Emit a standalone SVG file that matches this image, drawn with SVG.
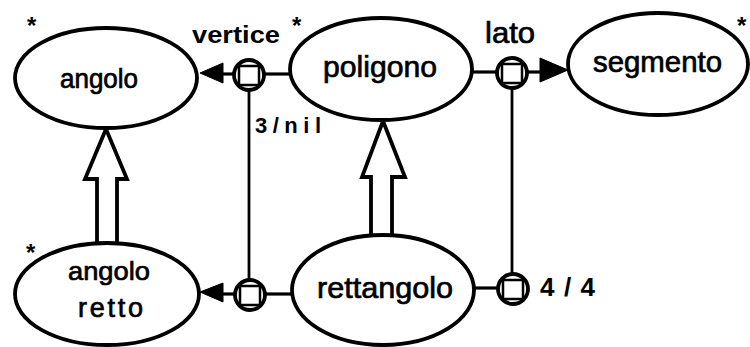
<svg xmlns="http://www.w3.org/2000/svg" width="750" height="347" viewBox="0 0 750 347">
<defs>
<style>
.node ellipse{fill:#fff;stroke:#000;stroke-width:3.8}
.lbl{font-family:"Liberation Sans",Arial,sans-serif;font-size:29px;fill:#000;stroke:#000;stroke-width:0.7}
.rel{font-family:"Liberation Sans",Arial,sans-serif;font-size:23px;font-weight:bold;fill:#000}
.star{font-family:"Liberation Sans",Arial,sans-serif;font-size:24px;font-weight:bold;fill:#000}
.ln{stroke:#000;stroke-width:3.2;fill:none}
.vl{stroke:#000;stroke-width:2.8;fill:none}
.hub circle{fill:#fff;stroke:#000;stroke-width:3.8}
.hub rect{fill:#fff;stroke:#000;stroke-width:2.5}
.ah{fill:#000;stroke:#000;stroke-width:1}
.isa{fill:#fff;stroke:#000;stroke-width:3.8;stroke-linejoin:miter}
</style>
</defs>
<rect width="750" height="347" fill="#fff"/>

<g id="connectors">
  <line class="vl" x1="249" y1="90" x2="249" y2="280"/>
  <line class="vl" x1="512" y1="89" x2="512" y2="273"/>
  <line class="ln" x1="290" y1="74" x2="264" y2="74"/>
  <line class="ln" x1="234" y1="74" x2="218" y2="74"/>
  <polygon class="ah" points="200,73 223,63 223,83"/>
  <line class="ln" x1="473" y1="72" x2="497" y2="72"/>
  <line class="ln" x1="527" y1="72" x2="545" y2="72"/>
  <polygon class="ah" points="568,70 540,58 540,82"/>
  <line class="ln" x1="292" y1="294" x2="265" y2="294"/>
  <line class="ln" x1="235" y1="294" x2="218" y2="294"/>
  <polygon class="ah" points="200,292 223,283 223,302"/>
  <line class="ln" x1="475" y1="288" x2="498" y2="288"/>
  <g class="hub" id="hub-vertice"><circle cx="249" cy="75" r="15"/><rect x="239" y="66" width="20" height="19"/></g>
  <g class="hub" id="hub-lato"><circle cx="512" cy="73" r="15"/><rect x="502" y="64" width="20" height="19"/></g>
  <g class="hub" id="hub-retto"><circle cx="250" cy="295" r="15"/><rect x="240" y="286" width="20" height="19"/></g>
  <g class="hub" id="hub-44"><circle cx="513" cy="289" r="15"/><rect x="503" y="280" width="20" height="19"/></g>
  <polygon class="isa" points="106,129 127,179 117,179 117,244 97,244 97,179 85,179"/>
  <polygon class="isa" points="383,121 405,177 392,177 392,236 371,236 371,177 362,177"/>
  <text class="rel" x="192" y="43" textLength="88" lengthAdjust="spacingAndGlyphs">vertice</text>
  <text class="lbl" x="485" y="43" textLength="50" lengthAdjust="spacingAndGlyphs">lato</text>
  <text class="rel" x="255" y="133" style="font-size:22px" textLength="66" lengthAdjust="spacing">3/nil</text>
  <text class="rel" x="540" y="296" style="font-size:26px" textLength="55" lengthAdjust="spacing">4 / 4</text>
</g>

<g id="node-angolo" class="node">
  <ellipse cx="106" cy="78" rx="91" ry="50"/>
  <text class="lbl" x="60" y="88" style="font-size:27px" textLength="78" lengthAdjust="spacingAndGlyphs">angolo</text>
  <text class="star" x="27" y="34">*</text>
</g>
<g id="node-poligono" class="node">
  <ellipse cx="381" cy="69" rx="91" ry="51"/>
  <text class="lbl" x="323" y="77" style="font-size:30px" textLength="114" lengthAdjust="spacingAndGlyphs">poligono</text>
  <text class="star" x="292" y="34">*</text>
</g>
<g id="node-segmento" class="node">
  <ellipse cx="658" cy="64" rx="90" ry="51"/>
  <text class="lbl" x="593" y="72" textLength="129" lengthAdjust="spacingAndGlyphs">segmento</text>
  <text class="star" x="737" y="34">*</text>
</g>
<g id="node-angolo-retto" class="node">
  <ellipse cx="107" cy="294" rx="92" ry="51"/>
  <text class="lbl" x="68" y="280" style="font-size:26px" textLength="82" lengthAdjust="spacingAndGlyphs">angolo</text>
  <text class="lbl" x="78" y="317" style="font-size:27px" textLength="65" lengthAdjust="spacing">retto</text>
  <text class="star" x="26" y="261">*</text>
</g>
<g id="node-rettangolo" class="node">
  <ellipse cx="383" cy="290" rx="91" ry="55"/>
  <text class="lbl" x="317" y="298" style="font-size:30px" textLength="136" lengthAdjust="spacingAndGlyphs">rettangolo</text>
</g>
</svg>
